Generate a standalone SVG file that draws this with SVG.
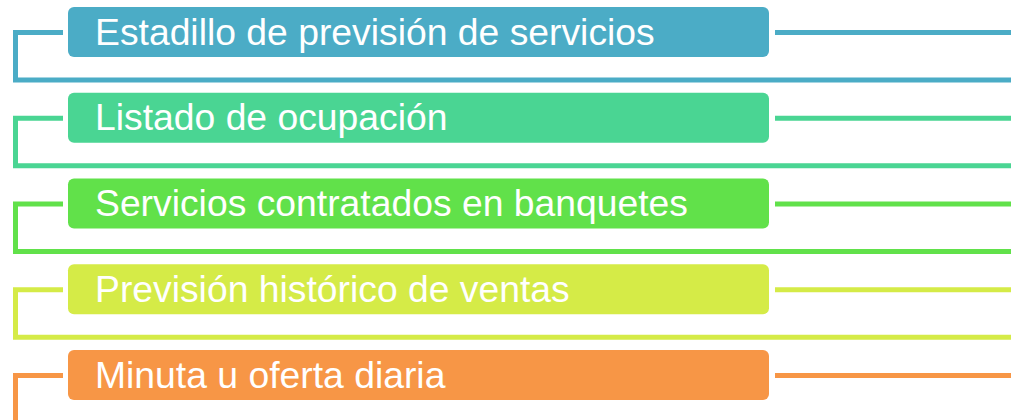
<svg xmlns="http://www.w3.org/2000/svg" width="1011" height="420" viewBox="0 0 1011 420">
<style>
.box{stroke:none}
.lbl{font-family:"Liberation Sans",Arial,sans-serif;font-size:37.3px;fill:#ffffff}
.ln{fill:none;stroke-width:5;stroke-linejoin:miter;stroke-linecap:butt}
</style>
<rect width="1011" height="420" fill="#ffffff"/>
<g id="connectors">
<path class="ln" stroke="#4BACC6" d="M63,32.5 H15.5 V80 H1011 M775,32.5 H1011"/>
<path class="ln" stroke="#4AD593" d="M63,118.25 H15.5 V165.75 H1011 M775,118.25 H1011"/>
<path class="ln" stroke="#61E14A" d="M63,204 H15.5 V251.5 H1011 M775,204 H1011"/>
<path class="ln" stroke="#D5EB47" d="M63,289.75 H15.5 V337.25 H1011 M775,289.75 H1011"/>
<path class="ln" stroke="#F79646" d="M63,375.5 H15.5 V425 M775,375.5 H1011"/>
</g>
<g id="node1"><rect class="box" x="68" y="7" width="701" height="50" rx="6" fill="#4BACC6"/><text class="lbl" x="95" y="44.5">Estadillo de previsión de servicios</text></g>
<g id="node2"><rect class="box" x="68" y="92.75" width="701" height="50" rx="6" fill="#4AD593"/><text class="lbl" x="95" y="130.25">Listado de ocupación</text></g>
<g id="node3"><rect class="box" x="68" y="178.5" width="701" height="50" rx="6" fill="#61E14A"/><text class="lbl" x="95" y="216">Servicios contratados en banquetes</text></g>
<g id="node4"><rect class="box" x="68" y="264.25" width="701" height="50" rx="6" fill="#D5EB47"/><text class="lbl" x="95" y="301.75">Previsión histórico de ventas</text></g>
<g id="node5"><rect class="box" x="68" y="350" width="701" height="50" rx="6" fill="#F79646"/><text class="lbl" x="95" y="387.5">Minuta u oferta diaria</text></g>
</svg>
